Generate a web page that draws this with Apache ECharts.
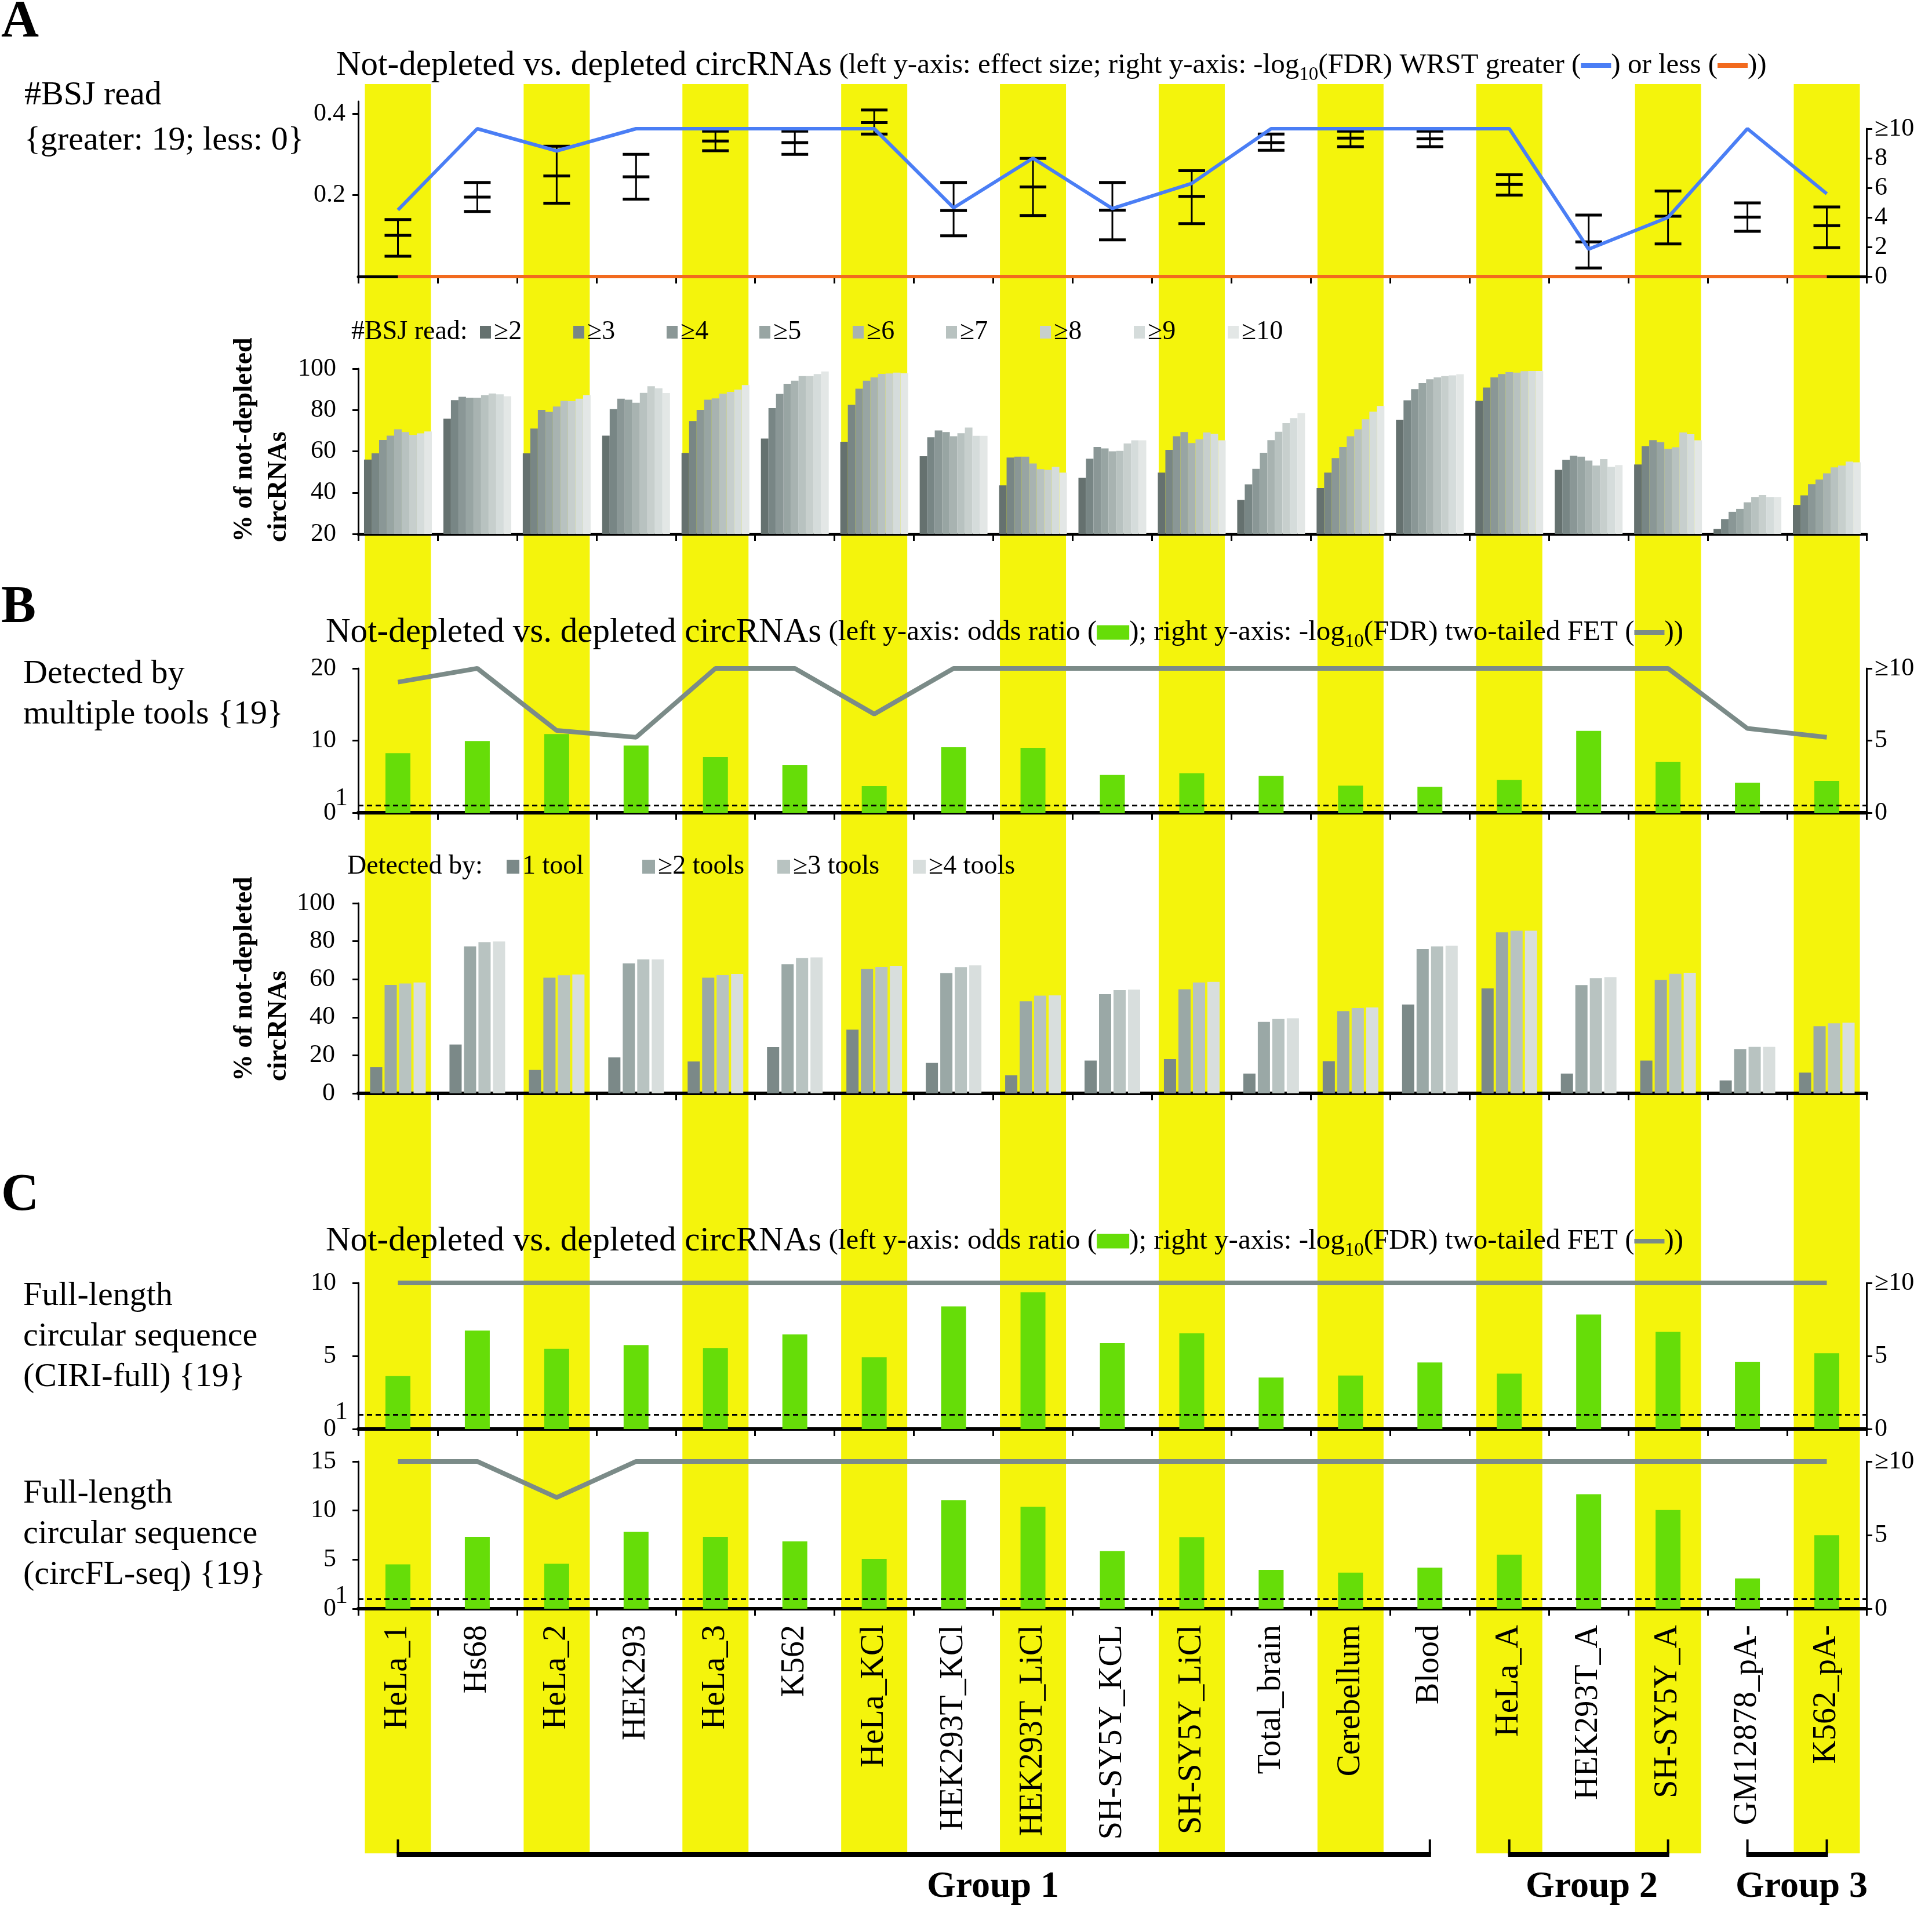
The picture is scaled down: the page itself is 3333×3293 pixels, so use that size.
<!DOCTYPE html>
<html>
<head>
<meta charset="utf-8">
<title>Not-depleted vs. depleted circRNAs</title>
<script src="https://cdn.jsdelivr.net/npm/echarts@6.0.0/dist/echarts.min.js"></script>
<style>
html,body{margin:0;padding:0;background:#ffffff;}
#chart{width:3333px;height:3293px;}
</style>
</head>
<body>
<div id="chart"></div>
<script>
// ================= DATA =================
const categories = ['HeLa_1','Hs68','HeLa_2','HEK293','HeLa_3','K562','HeLa_KCl','HEK293T_KCl','HEK293T_LiCl','SH-SY5Y_KCL','SH-SY5Y_LiCl','Total_brain','Cerebellum','Blood','HeLa_A','HEK293T_A','SH-SY5Y_A','GM12878_pA-','K562_pA-'];
const highlighted = [1,0,1,0,1,0,1,0,1,0,1,0,1,0,1,0,1,0,1];
const groupNames = ['Group 1','Group 2','Group 3'];
const groupStart = [0,14,17];
const groupEnd = [13,16,18];

// Panel A (top): effect size (low / estimate / high) and -log10(FDR)
const effectLow  = [0.050,0.160,0.180,0.190,0.309,0.300,0.350,0.100,0.150,0.090,0.130,0.310,0.319,0.319,0.200,0.021,0.080,0.111,0.071];
const effectMid  = [0.101,0.195,0.247,0.245,0.333,0.329,0.378,0.162,0.220,0.163,0.197,0.329,0.340,0.338,0.226,0.085,0.148,0.146,0.125];
const effectHigh = [0.140,0.231,0.320,0.300,0.357,0.357,0.409,0.231,0.290,0.231,0.260,0.350,0.357,0.357,0.250,0.151,0.210,0.181,0.171];
const wrstGreaterFDR = [4.5,10,8.5,10,10,10,10,4.65,8.0,4.6,6.3,10,10,10,10,1.85,4.0,10,5.6];
const wrstLessFDR    = [0,0,0,0,0,0,0,0,0,0,0,0,0,0,0,0,0,0,0];

// Panel A (bottom): % of not-depleted circRNAs by #BSJ read threshold
const bsjThresholds = ['≥2','≥3','≥4','≥5','≥6','≥7','≥8','≥9','≥10'];
const bsjGe2  = [56.0,75.8,59.0,67.6,59.2,66.2,64.6,57.6,43.5,47.2,49.7,36.5,42.2,75.3,84.4,51.0,53.6,22.4,34.0];
const bsjGe3  = [59.0,84.8,71.0,80.4,74.7,80.9,82.5,66.8,57.0,56.4,60.7,44.0,49.7,84.7,90.9,55.9,62.5,27.2,38.7];
const bsjGe4  = [65.5,86.4,80.1,85.5,80.1,87.8,90.3,70.1,57.4,62.1,67.3,51.5,56.7,90.1,95.8,57.9,65.4,30.7,44.1];
const bsjGe5  = [67.6,86.0,79.1,85.0,85.0,92.7,94.2,69.3,57.4,61.4,69.3,59.3,62.1,93.0,97.4,57.4,64.4,32.1,46.3];
const bsjGe6  = [70.7,86.0,81.7,83.5,85.6,94.2,95.8,67.3,54.1,60.0,64.0,65.4,67.3,94.9,98.3,55.5,61.2,35.3,49.3];
const bsjGe7  = [69.3,87.2,84.4,88.3,87.9,96.4,97.5,68.8,51.4,60.2,65.8,69.5,70.7,95.8,98.1,53.1,62.0,37.9,52.2];
const bsjGe8  = [67.9,88.0,84.3,91.5,88.8,96.4,97.7,71.5,51.0,63.8,69.1,73.6,75.5,96.4,98.8,56.2,69.1,38.8,53.1];
const bsjGe9  = [68.7,87.6,85.5,90.5,89.9,97.4,98.1,67.5,52.5,65.3,68.4,76.1,79.2,96.8,98.9,52.5,68.3,37.9,55.0];
const bsjGe10 = [69.6,86.7,87.2,88.2,92.1,98.7,97.8,67.5,49.7,65.3,65.3,78.5,82.0,97.3,98.9,53.3,65.3,37.9,54.7];

// Panel B (top): detected by multiple tools
const multiToolOR  = [8.25,9.93,10.9,9.32,7.71,6.59,3.69,9.08,9.0,5.25,5.46,5.11,3.75,3.59,4.55,11.35,7.07,4.15,4.42];
const multiToolFDR = [9.05,10,5.7,5.23,10,10,6.84,10,10,10,10,10,10,10,10,10,10,5.84,5.23];

// Panel B (bottom): % of not-depleted circRNAs by number of tools
const toolLevels = ['1 tool','≥2 tools','≥3 tools','≥4 tools'];
const tool1   = [13.7,25.7,12.3,18.9,16.8,24.4,33.5,16.0,9.5,17.2,18.0,10.4,16.9,46.7,55.2,10.4,17.2,6.8,10.9];
const toolGe2 = [57.0,77.3,60.8,68.4,60.8,67.9,65.4,63.3,48.4,52.1,54.7,37.6,43.2,75.9,84.7,56.9,59.7,23.2,35.3];
const toolGe3 = [57.8,79.5,62.1,70.4,62.2,71.1,66.5,66.4,51.4,54.3,58.3,39.1,44.8,77.3,85.5,60.6,62.9,24.5,36.8];
const toolGe4 = [58.3,79.9,62.5,70.4,62.8,71.5,67.1,67.3,51.5,54.6,58.6,39.5,45.2,77.6,85.5,61.1,63.4,24.5,37.2];

// Panel C: full-length circular sequence
const ciriOR    = [3.62,6.74,5.49,5.74,5.55,6.48,4.91,8.39,9.36,5.87,6.55,3.52,3.66,4.55,3.79,7.84,6.65,4.60,5.19];
const ciriFDR   = [10,10,10,10,10,10,10,10,10,10,10,10,10,10,10,10,10,10,10];
const circflOR  = [4.52,7.32,4.58,7.82,7.32,6.86,5.08,11.05,10.40,5.88,7.29,3.95,3.67,4.18,5.51,11.67,10.06,3.08,7.49];
const circflFDR = [10,10,7.55,10,10,10,10,10,10,10,10,10,10,10,10,10,10,10,10];

// Tick values
const effectTicks = [0.2, 0.4];
const fdrTicksA   = [0, 2, 4, 6, 8, 10];
const fdrTicksBC  = [0, 5, 10];
const orTicksB    = [0, 10, 20];
const orTicksC1   = [0, 5, 10];
const orTicksC2   = [0, 5, 10, 15];
const orRefTick   = [1];

// ================= STYLE =================
const FONT = "'Liberation Serif','Times New Roman',serif";
const YELLOW = '#f4f40c';
const GREEN = '#66dd08';
const GRAYLINE = '#7b8b88';
const BLUE = '#4a7ef5';
const ORANGE = '#f26a1e';
const bsjColors = ['#65716f','#788685','#8a9796','#98a5a3','#a8b3b1','#b8c2c0','#c7cfcd','#d5dcdb','#e3e7e6'];
const toolColors = ['#7b8988','#9aa8a6','#b8c3c1','#d8dedd'];

const GL = 618, GW = 2602;
const grids = [
  {top:145,  height:3052}, // 0 background stripes
  {top:175,  height:302},  // 1 A top (left axis)
  {top:222,  height:255},  // 2 A top (right axis)
  {top:636,  height:285},  // 3 A bottom
  {top:1153, height:249},  // 4 B top
  {top:1558, height:328},  // 5 B bottom
  {top:2213, height:252},  // 6 C1
  {top:2521, height:254},  // 7 C2
  {top:3173, height:30}    // 8 brackets
].map(g => ({left:GL, width:GW, top:g.top, height:g.height, containLabel:false, outerBoundsMode:'none'}));

function catAxis(gi, extra) {
  return Object.assign({
    type:'category', gridIndex:gi, data:categories, boundaryGap:true,
    axisLine:{show:true, onZero:false, lineStyle:{color:'#000', width:5}},
    axisTick:{show:true, length:12, lineStyle:{color:'#000', width:3}},
    axisLabel:{show:false}, splitLine:{show:false}
  }, extra || {});
}
function inList(list, v) { return list.some(t => Math.abs(t - v) < 1e-9); }
function valAxis(gi, min, max, interval, position, labels, ticks, fmt, margin) {
  return {
    type:'value', gridIndex:gi, min, max, interval, position,
    axisLine:{show:true, onZero:false, lineStyle:{color:'#000', width:3}},
    axisTick:{show:true, length:10, customValues:ticks, lineStyle:{color:'#000', width:3}},
    splitLine:{show:false},
    axisLabel:{show:true, customValues:labels, margin, color:'#000', fontFamily:FONT, fontSize:44,
      showMinLabel:true, showMaxLabel:true, hideOverlap:false,
      formatter: v => inList(labels, v) ? fmt(v) : ''}
  };
}
// extra label-only axis carrying the odds-ratio reference value "1"
function refAxis(gi, min, max, lift) {
  return {
    type:'value', gridIndex:gi, min, max, position:'left',
    axisLine:{show:false}, axisTick:{show:false}, splitLine:{show:false},
    axisLabel:{show:true, customValues:orRefTick, margin:18, showMinLabel:true, showMaxLabel:true, hideOverlap:false,
      formatter: v => inList(orRefTick, v) ? '{one|' + v + '}' : '',
      rich:{one:{fontFamily:FONT, fontSize:44, color:'#000', padding:[0,0,lift*2,0]}}}
  };
}
function hiddenAxis(type, gi, extra) {
  return Object.assign({type, gridIndex:gi, show:false}, extra || {});
}
const fmtRight = v => (v === 10 ? '≥10' : String(v));

const xAxes = [
  hiddenAxis('category', 0, {data:categories, boundaryGap:true}),
  catAxis(1),
  hiddenAxis('category', 2, {data:categories, boundaryGap:true}),
  catAxis(3),
  catAxis(4, {axisLine:{show:true, onZero:false, lineStyle:{color:'#000', width:6}}}),
  catAxis(5, {axisLine:{show:true, onZero:false, lineStyle:{color:'#000', width:6}}}),
  catAxis(6, {axisLine:{show:true, onZero:false, lineStyle:{color:'#000', width:6}}}),
  catAxis(7, {axisLine:{show:true, onZero:false, lineStyle:{color:'#000', width:6}},
    axisLabel:{show:true, interval:0, rotate:90, margin:28, color:'#000', fontFamily:FONT, fontSize:56}}),
  hiddenAxis('category', 8, {data:categories, boundaryGap:true})
];

const yAxes = [
  hiddenAxis('value', 0, {min:0, max:1}),
  valAxis(1, 0, 0.43, 0.2, 'left', effectTicks, effectTicks, v => v.toFixed(1), 22),
  valAxis(2, 0, 10, 2, 'right', fdrTicksA, fdrTicksA, fmtRight, 14),
  valAxis(3, 20, 100, 20, 'left', [20,40,60,80,100], [20,40,60,80,100], v => String(v), 38),
  valAxis(4, 0, 20, 10, 'left', orTicksB, orTicksB, v => String(v), 38),
  valAxis(4, 0, 10, 5, 'right', fdrTicksBC, fdrTicksBC, fmtRight, 14),
  valAxis(5, 0, 100, 20, 'left', [0,20,40,60,80,100], [0,20,40,60,80,100], v => String(v), 40),
  valAxis(6, 0, 10, 5, 'left', orTicksC1, orTicksC1, v => String(v), 38),
  valAxis(6, 0, 10, 5, 'right', fdrTicksBC, fdrTicksBC, fmtRight, 14),
  valAxis(7, 0, 15, 5, 'left', orTicksC2, orTicksC2, v => String(v), 38),
  valAxis(7, 0, 10, 5, 'right', fdrTicksBC, fdrTicksBC, fmtRight, 14),
  hiddenAxis('value', 8, {min:0, max:1}),
  refAxis(4, 0, 20, 12),
  refAxis(6, 0, 10, 3),
  refAxis(7, 0, 15, 5)
];

const dashedOne = {
  silent:true, symbol:'none', label:{show:false},
  lineStyle:{color:'#000', type:[9,6], width:3}, data:[{yAxis:1}]
};

function lineSeries(name, data, xi, yi, color, width) {
  return {type:'line', name, data, xAxisIndex:xi, yAxisIndex:yi, symbol:'none', showSymbol:false,
    lineStyle:{color, width}, itemStyle:{color}, z:4, silent:true};
}
function greenBars(name, data, xi, yi) {
  return {type:'bar', name, data, xAxisIndex:xi, yAxisIndex:yi, barWidth:43,
    itemStyle:{color:GREEN}, z:2, silent:true, markLine:dashedOne};
}

const bsjData = [bsjGe2,bsjGe3,bsjGe4,bsjGe5,bsjGe6,bsjGe7,bsjGe8,bsjGe9,bsjGe10];
const toolData = [tool1,toolGe2,toolGe3,toolGe4];

const series = [];
// yellow highlight stripes
series.push({type:'bar', name:'highlight', data:highlighted, xAxisIndex:0, yAxisIndex:0,
  barWidth:114, itemStyle:{color:YELLOW}, z:-10, silent:true});
// A top: error bars
series.push({
  type:'custom', name:'effect size', xAxisIndex:1, yAxisIndex:1, z:3, silent:true,
  data: categories.map((c, i) => [i, effectLow[i], effectMid[i], effectHigh[i]]),
  encode:{x:0, y:[1,2,3]},
  renderItem: function (params, api) {
    const x = api.value(0);
    const lo = api.coord([x, api.value(1)]);
    const mi = api.coord([x, api.value(2)]);
    const hi = api.coord([x, api.value(3)]);
    const hw = 23;
    const cap = p => ({type:'line', shape:{x1:p[0]-hw, y1:p[1], x2:p[0]+hw, y2:p[1]}, style:{stroke:'#000', lineWidth:5}});
    return {type:'group', children:[
      {type:'line', shape:{x1:lo[0], y1:lo[1], x2:hi[0], y2:hi[1]}, style:{stroke:'#000', lineWidth:3}},
      cap(lo), cap(mi), cap(hi)
    ]};
  }
});
series.push(lineSeries('WRST less', wrstLessFDR, 2, 2, ORANGE, 6));
series.push(lineSeries('WRST greater', wrstGreaterFDR, 2, 2, BLUE, 6));
// A bottom
bsjThresholds.forEach((name, k) => {
  series.push({type:'bar', name, data:bsjData[k], xAxisIndex:3, yAxisIndex:3, barWidth:13, barGap:'0%',
    itemStyle:{color:bsjColors[k]}, clip:true, z:2, silent:true});
});
// B top
series.push(greenBars('odds ratio (multiple tools)', multiToolOR, 4, 4));
series.push(lineSeries('FET multiple tools', multiToolFDR, 4, 5, GRAYLINE, 8));
// B bottom
toolLevels.forEach((name, k) => {
  series.push({type:'bar', name, data:toolData[k], xAxisIndex:5, yAxisIndex:6, barWidth:21, barGap:'19%',
    itemStyle:{color:toolColors[k]}, clip:true, z:2, silent:true});
});
// C1
series.push(greenBars('odds ratio (CIRI-full)', ciriOR, 6, 7));
series.push(lineSeries('FET CIRI-full', ciriFDR, 6, 8, GRAYLINE, 8));
// C2
series.push(greenBars('odds ratio (circFL-seq)', circflOR, 7, 9));
series.push(lineSeries('FET circFL-seq', circflFDR, 7, 10, GRAYLINE, 8));
// group brackets
series.push({
  type:'custom', name:'groups', xAxisIndex:8, yAxisIndex:11, silent:true, z:3,
  data: groupNames.map((g, i) => [groupStart[i], groupEnd[i], 0]),
  encode:{x:[0,1], y:2},
  renderItem: function (params, api) {
    const b0 = api.coord([api.value(0), 0]);
    const b1 = api.coord([api.value(1), 0]);
    const t0 = api.coord([api.value(0), 1]);
    const t1 = api.coord([api.value(1), 1]);
    return {type:'group', children:[
      {type:'line', shape:{x1:b0[0]-2, y1:b0[1]-4, x2:b1[0]+2, y2:b1[1]-4}, style:{stroke:'#000', lineWidth:8}},
      {type:'line', shape:{x1:t0[0], y1:t0[1], x2:b0[0], y2:b0[1]-4}, style:{stroke:'#000', lineWidth:4}},
      {type:'line', shape:{x1:t1[0], y1:t1[1], x2:b1[0], y2:b1[1]-4}, style:{stroke:'#000', lineWidth:4}}
    ]};
  }
});

// legends
const bsjLegendX = [828, 989, 1150, 1310, 1471, 1632, 1794, 1956, 2118];
const toolLegendX = [874, 1108, 1341, 1575];
const legends = [];
bsjThresholds.forEach((name, k) => legends.push({
  data:[name], left:bsjLegendX[k], top:550, padding:0, icon:'rect', itemWidth:19, itemHeight:22,
  selectedMode:false, itemStyle:{borderWidth:0},
  textStyle:{color:'#000', fontFamily:FONT, fontSize:46}
}));
toolLevels.forEach((name, k) => legends.push({
  data:[name], left:toolLegendX[k], top:1472, padding:0, icon:'rect', itemWidth:22, itemHeight:24,
  selectedMode:false, itemStyle:{borderWidth:0},
  textStyle:{color:'#000', fontFamily:FONT, fontSize:46}
}));

// text graphics
function txt(x, y, text, size, extra) {
  return {type:'text', x, y, z:50, silent:true,
    style:Object.assign({text, fontFamily:FONT, fontSize:size, fill:'#000', align:'left', verticalAlign:'middle'}, extra || {})};
}
const titleRich = {
  big:{fontFamily:FONT, fontSize:59, lineHeight:62, fill:'#000'},
  sm:{fontFamily:FONT, fontSize:49, lineHeight:62, fill:'#000'},
  sub:{fontFamily:FONT, fontSize:33, height:29, lineHeight:62, verticalAlign:'bottom', fill:'#000'},
  bl:{backgroundColor:BLUE, width:52, height:8},
  or:{backgroundColor:ORANGE, width:52, height:8},
  gr:{backgroundColor:GREEN, width:56, height:25},
  gy:{backgroundColor:GRAYLINE, width:52, height:8}
};
const titleA = '{big|Not-depleted vs. depleted circRNAs}{sm| (left y-axis: effect size; right y-axis: -log}{sub|10}{sm|(FDR) WRST greater (}{bl| }{sm|) or less (}{or| }{sm|))}';
const titleBC = '{big|Not-depleted vs. depleted circRNAs}{sm| (left y-axis: odds ratio (}{gr| }{sm|); right y-axis: -log}{sub|10}{sm|(FDR) two-tailed FET (}{gy| }{sm|))}';

const graphics = [
  txt(2, 40, 'A', 90, {fontWeight:'bold'}),
  txt(2, 1050, 'B', 90, {fontWeight:'bold'}),
  txt(2, 2064, 'C', 90, {fontWeight:'bold'}),
  txt(580, 113, titleA, 59, {rich:titleRich}),
  txt(562, 1091, titleBC, 59, {rich:titleRich}),
  txt(562, 2141, titleBC, 59, {rich:titleRich}),
  txt(42, 204, '#BSJ read\n{greater: 19; less: 0}', 58, {lineHeight:78}),
  txt(40, 1198, 'Detected by\nmultiple tools {19}', 58, {lineHeight:70}),
  txt(40, 2306, 'Full-length\ncircular sequence\n(CIRI-full) {19}', 58, {lineHeight:70}),
  txt(40, 2647, 'Full-length\ncircular sequence\n(circFL-seq) {19}', 58, {lineHeight:70}),
  txt(606, 573, '#BSJ read:', 46),
  txt(599, 1495, 'Detected by:', 46),
  {type:'text', x:393, y:935, rotation:Math.PI/2, z:50, silent:true,
    style:{text:'% of not-depleted\ncircRNAs', fontFamily:FONT, fontSize:46, fontWeight:'bold', fill:'#000', align:'left', verticalAlign:'top', lineHeight:59}},
  {type:'text', x:393, y:1865, rotation:Math.PI/2, z:50, silent:true,
    style:{text:'% of not-depleted\ncircRNAs', fontFamily:FONT, fontSize:46, fontWeight:'bold', fill:'#000', align:'left', verticalAlign:'top', lineHeight:59}},
  txt(1713, 3255, groupNames[0], 64, {fontWeight:'bold', align:'center'}),
  txt(2746, 3255, groupNames[1], 64, {fontWeight:'bold', align:'center'}),
  txt(3108, 3255, groupNames[2], 64, {fontWeight:'bold', align:'center'})
];

const chart = echarts.init(document.getElementById('chart'), null, {renderer:'canvas', width:3333, height:3293});
chart.setOption({
  backgroundColor:'#ffffff',
  animation:false,
  textStyle:{fontFamily:FONT},
  grid:grids,
  xAxis:xAxes,
  yAxis:yAxes,
  legend:legends,
  series:series,
  graphic:graphics
});
</script>
</body>
</html>
